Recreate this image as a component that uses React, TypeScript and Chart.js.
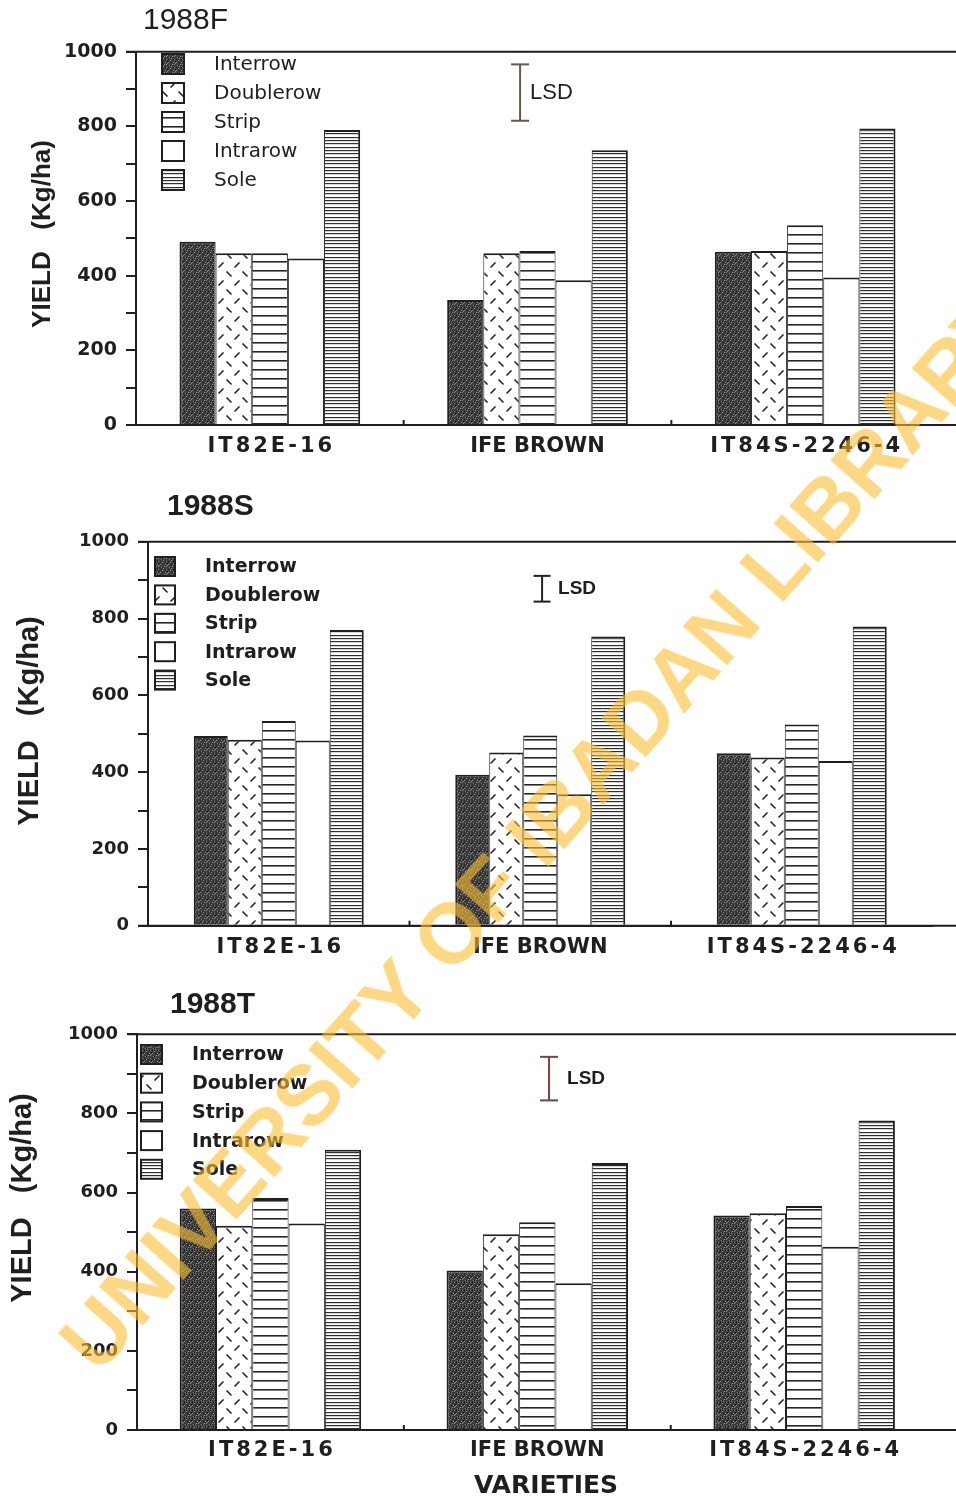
import React, { useEffect, useRef } from "react";
import { Chart, registerables } from "chart.js";

Chart.register(...registerables);

// ---------------- data ----------------
const categories = ["IT82E-16", "IFE BROWN", "IT84S-2246-4"];
const seriesNames = ["Interrow", "Doublerow", "Strip", "Intrarow", "Sole"];
const yTickLabels = [0, 200, 400, 600, 800, 1000];

const interrow1988F = [491, 335, 464];
const doublerow1988F = [460, 460, 466];
const strip1988F = [460, 466, 535];
const intrarow1988F = [446, 388, 395];
const sole1988F = [790, 736, 794];

const interrow1988S = [494, 393, 449];
const doublerow1988S = [484, 451, 438];
const strip1988S = [533, 495, 524];
const intrarow1988S = [482, 342, 429];
const sole1988S = [770, 753, 779];

const interrow1988T = [560, 403, 542];
const doublerow1988T = [516, 495, 548];
const strip1988T = [586, 525, 566];
const intrarow1988T = [522, 371, 463];
const sole1988T = [708, 675, 782];

const panelTitles = ["1988F", "1988S", "1988T"];
const lsdValues = [151, 67, 110];
const yAxisTitle = "YIELD   (Kg/ha)";
const xAxisTitle = "VARIETIES";
const lsdLabel = "LSD";
const watermarkText = "UNIVERSITY OF IBADAN LIBRARY";

const panelSeries = [
  [interrow1988F, doublerow1988F, strip1988F, intrarow1988F, sole1988F],
  [interrow1988S, doublerow1988S, strip1988S, intrarow1988S, sole1988S],
  [interrow1988T, doublerow1988T, strip1988T, intrarow1988T, sole1988T],
];

// ---------------- layout / style (page coordinates) ----------------
const INK = "#1f1f1f";
const panelStyles = [
  {
    top: 0, height: 478, axisX: 136, chartTop: 51.7, chartBottom: 425, chartRight: 939, catPct: 0.675,
    tickFont: { family: "DejaVu Sans", size: 19, weight: "bold" },
    title: { x: 143, y: 21, font: '30px "Liberation Sans"' },
    yTitle: { x: 43, y: 234, font: 'bold 26px "Liberation Sans"' },
    legend: { x: 162, y: 54, w: 22, h: 20, pitch: 29, textX: 214, font: '20px "DejaVu Sans"' },
    labelDy: 22,
    lsd: { at: 0.935, top: 966, half: 9, textDx: 10, font: '22px "Liberation Sans"', color: "#6b5a40" },
    xTitle: null as null | { x: number; y: number; font: string },
  },
  {
    top: 478, height: 497, axisX: 148, chartTop: 541.7, chartBottom: 925.7, chartRight: 932.5, catPct: 0.65,
    tickFont: { family: "DejaVu Sans", size: 18, weight: "bold" },
    title: { x: 167, y: 507, font: 'bold 30px "Liberation Sans"' },
    yTitle: { x: 30, y: 721, font: 'bold 29px "Liberation Sans"' },
    legend: { x: 155, y: 557, w: 20, h: 19, pitch: 28.4, textX: 205, font: 'bold 19px "DejaVu Sans"' },
    labelDy: 22,
    lsd: { at: 1.007, top: 911, half: 8.5, textDx: 16, font: 'bold 19px "Liberation Sans"', color: "#222222" },
    xTitle: null as null | { x: number; y: number; font: string },
  },
  {
    top: 975, height: 522, axisX: 137, chartTop: 1034.3, chartBottom: 1430, chartRight: 937.6, catPct: 0.68,
    tickFont: { family: "DejaVu Sans", size: 18, weight: "bold" },
    title: { x: 170, y: 1005, font: 'bold 30px "Liberation Sans"' },
    yTitle: { x: 23, y: 1198, font: 'bold 29px "Liberation Sans"' },
    legend: { x: 141, y: 1045, w: 21, h: 19, pitch: 28.7, textX: 192, font: 'bold 19px "DejaVu Sans"' },
    labelDy: 21,
    lsd: { at: 1.044, top: 943, half: 9, textDx: 18, font: 'bold 19px "Liberation Sans"', color: "#74463e" },
    xTitle: { x: 546, y: 1486, font: 'bold 25px "DejaVu Sans"' },
  },
];

// ---------------- fill patterns ----------------
function makePattern(w: number, h: number, draw: (g: CanvasRenderingContext2D) => void) {
  const c = document.createElement("canvas");
  c.width = w;
  c.height = h;
  const g = c.getContext("2d")!;
  draw(g);
  return g.createPattern(c, "repeat")!;
}

const LIGHT_SPECKS = [[1, 1], [4, 0], [6, 3], [2, 4], [5, 6], [0, 6], [3, 2], [7, 7], [6, 0]];
const DARK_SPECKS = [[2, 1], [5, 3], [0, 3], [3, 6], [7, 5]];

function makePatterns(): (CanvasPattern | string)[] {
  const interrow = makePattern(8, 8, (g) => {
    g.fillStyle = "#3d3d3d";
    g.fillRect(0, 0, 8, 8);
    g.fillStyle = "#8a8a8a";
    LIGHT_SPECKS.forEach(([x, y]) => g.fillRect(x, y, 1, 1));
    g.fillStyle = "#1a1a1a";
    DARK_SPECKS.forEach(([x, y]) => g.fillRect(x, y, 1, 1));
  });
  const doublerow = makePattern(16, 18, (g) => {
    g.fillStyle = "#ffffff";
    g.fillRect(0, 0, 16, 18);
    g.strokeStyle = "#2a2a2a";
    g.lineWidth = 1.7;
    g.lineCap = "round";
    const seg = (a: number, b: number, c: number, d: number) => {
      g.beginPath();
      g.moveTo(a, b);
      g.lineTo(c, d);
      g.stroke();
    };
    seg(3, 2, 7, 6);
    seg(11, 15, 15, 11);
  });
  const strip = makePattern(4, 9, (g) => {
    g.fillStyle = "#ffffff";
    g.fillRect(0, 0, 4, 9);
    g.fillStyle = "#262626";
    g.fillRect(0, 0, 4, 1.6);
  });
  const sole = makePattern(4, 10, (g) => {
    g.fillStyle = "#ffffff";
    g.fillRect(0, 0, 4, 10);
    g.fillStyle = "#2e2e2e";
    g.fillRect(0, 0, 4, 1.2);
    g.fillRect(0, 3, 4, 1.2);
    g.fillRect(0, 7, 4, 1.2);
  });
  return [interrow, doublerow, strip, "#ffffff", sole];
}

// ---------------- decoration plugin ----------------
function decorPlugin(p: number, fills: (CanvasPattern | string)[]) {
  const st = panelStyles[p];
  return {
    id: "panelDecor" + p,
    afterDraw(chart: any) {
      const { ctx, chartArea } = chart;
      const xs = chart.scales.x;
      const ys = chart.scales.y;
      const oy = st.top;
      ctx.save();
      ctx.strokeStyle = INK;
      ctx.fillStyle = INK;
      ctx.lineWidth = 2;
      const line = (a: number, b: number, c: number, d: number) => {
        ctx.beginPath();
        ctx.moveTo(a, b);
        ctx.lineTo(c, d);
        ctx.stroke();
      };
      // frame: top line at 1000 and baseline across the page
      const yTop = ys.getPixelForValue(1000);
      const yBase = ys.getPixelForValue(0);
      line(chartArea.left - 10, yTop, chart.width, yTop);
      line(chartArea.left - 10, yBase, chart.width, yBase);
      // small inner ticks between categories
      for (let i = 0; i < categories.length - 1; i++) {
        const x = xs.getPixelForValue(i + 0.5);
        line(x, yBase, x, yBase - 5);
      }
      // category labels
      ctx.font = 'bold 21px "DejaVu Sans"';
      ctx.textAlign = "center";
      ctx.textBaseline = "middle";
      categories.forEach((c, i) => {
        const spaced = /\d/.test(c);
        (ctx as any).letterSpacing = spaced ? "3px" : "0px";
        ctx.fillText(c, xs.getPixelForValue(i) + (spaced ? 1.5 : 0), yBase + st.labelDy);
      });
      (ctx as any).letterSpacing = "0px";
      // panel title
      ctx.font = st.title.font;
      ctx.textAlign = "left";
      ctx.fillText(panelTitles[p], st.title.x, st.title.y - oy);
      // y axis title
      ctx.save();
      ctx.translate(st.yTitle.x, st.yTitle.y - oy);
      ctx.rotate(-Math.PI / 2);
      ctx.font = st.yTitle.font;
      ctx.textAlign = "center";
      ctx.fillText(yAxisTitle, 0, 0);
      ctx.restore();
      // x axis title
      if (st.xTitle) {
        ctx.font = st.xTitle.font;
        ctx.textAlign = "center";
        ctx.fillText(xAxisTitle, st.xTitle.x, st.xTitle.y - oy);
      }
      // legend
      const lg = st.legend;
      chart.data.datasets.forEach((ds: any, i: number) => {
        const by = lg.y - oy + i * lg.pitch;
        ctx.fillStyle = fills[i];
        ctx.fillRect(lg.x, by, lg.w, lg.h);
        ctx.lineWidth = 2;
        ctx.strokeStyle = INK;
        ctx.strokeRect(lg.x, by, lg.w, lg.h);
        ctx.fillStyle = INK;
        ctx.font = lg.font;
        ctx.textAlign = "left";
        ctx.fillText(ds.label, lg.textX, by + lg.h / 2 + 1);
      });
      // LSD bar
      const L = st.lsd;
      const lx = xs.getPixelForValue(L.at);
      const ly1 = ys.getPixelForValue(L.top);
      const ly2 = ys.getPixelForValue(L.top - lsdValues[p]);
      ctx.strokeStyle = L.color;
      ctx.lineWidth = 2;
      line(lx, ly1, lx, ly2);
      line(lx - L.half, ly1, lx + L.half, ly1);
      line(lx - L.half, ly2, lx + L.half, ly2);
      ctx.fillStyle = INK;
      ctx.font = L.font;
      ctx.textAlign = "left";
      ctx.fillText(lsdLabel, lx + L.textDx, (ly1 + ly2) / 2);
      ctx.restore();
    },
  };
}

function Panel({ p }: { p: number }) {
  const ref = useRef<HTMLCanvasElement>(null);
  const st = panelStyles[p];
  useEffect(() => {
    const fills = makePatterns();
    const n = seriesNames.length;
    const chart = new Chart(ref.current!, {
      type: "bar",
      data: {
        labels: categories,
        datasets: seriesNames.map((name, i) => ({
          label: name,
          data: panelSeries[p][i],
          backgroundColor: fills[i] as any,
          borderColor: INK,
          borderWidth: { top: 2, left: i === 0 ? 2 : 1, right: i === n - 1 ? 2 : 1, bottom: 0 },
          categoryPercentage: st.catPct,
          barPercentage: 1,
        })),
      },
      options: {
        responsive: false,
        animation: false,
        events: [],
        layout: {
          padding: {
            top: st.chartTop - st.top,
            bottom: st.top + st.height - st.chartBottom,
            left: 0,
            right: 956 - st.chartRight,
          },
        },
        plugins: {
          legend: { display: false },
          title: { display: false },
          tooltip: { enabled: false },
        },
        scales: {
          x: {
            type: "category",
            offset: true,
            grid: { display: false, drawTicks: false },
            border: { display: true, color: INK, width: 2 },
            ticks: { display: false },
            afterFit: (s: any) => {
              s.height = 0;
            },
          },
          y: {
            min: 0,
            max: 1000,
            ticks: {
              stepSize: 100,
              autoSkip: false,
              padding: 9,
              color: INK,
              font: st.tickFont as any,
              callback: (v: any) => (yTickLabels.includes(Number(v)) ? String(v) : ""),
            },
            grid: { drawOnChartArea: false, drawTicks: true, tickLength: 10, color: INK, lineWidth: 2 },
            border: { display: true, color: INK, width: 2 },
            afterFit: (s: any) => {
              s.width = st.axisX;
            },
          },
        },
      },
      plugins: [decorPlugin(p, fills)],
    });
    return () => chart.destroy();
  }, [p]);
  return (
    <canvas
      ref={ref}
      width={956}
      height={st.height}
      style={{ position: "absolute", left: 0, top: st.top, width: 956, height: st.height, display: "block" }}
    />
  );
}

export default function App() {
  return (
    <div
      style={{
        position: "absolute",
        left: 0,
        top: 0,
        width: 956,
        height: 1497,
        overflow: "hidden",
        background: "#ffffff",
      }}
    >
      <Panel p={0} />
      <Panel p={1} />
      <Panel p={2} />
      <div
        style={{
          position: "absolute",
          left: 541,
          top: 831,
          transform: "translate(-50%, -50%) rotate(-48.5deg)",
          font: 'bold 85px "Liberation Sans"',
          lineHeight: 1,
          color: "rgba(251, 190, 50, 0.6)",
          whiteSpace: "pre",
          pointerEvents: "none",
        }}
      >
        {watermarkText}
      </div>
    </div>
  );
}
